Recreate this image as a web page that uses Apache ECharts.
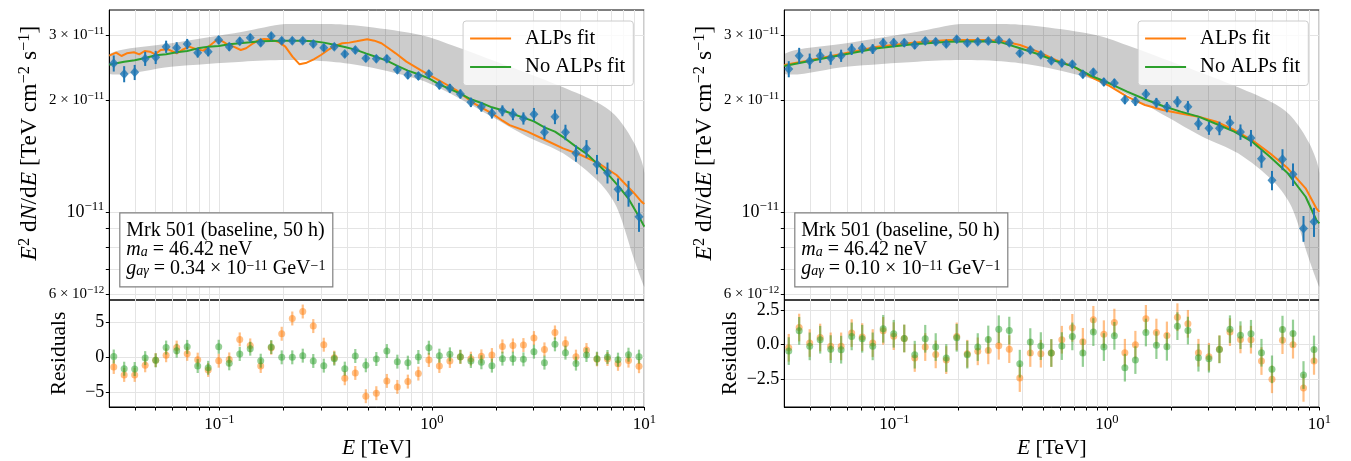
<!DOCTYPE html>
<html>
<head>
<meta charset="utf-8">
<script src="https://cdn.jsdelivr.net/npm/echarts@6.0.0/dist/echarts.min.js"></script>
<style>html,body{margin:0;padding:0;background:#fff;}#chart{width:1351px;height:461px;}</style>
</head>
<body>
<div id="chart"></div>
<script>
// ---------------- data (flux in units of 1e-11 TeV cm^-2 s^-1) ----------------
const ENERGY = [0.0318, 0.0356, 0.0399, 0.0447, 0.0501, 0.0561, 0.0629, 0.0705, 0.0790, 0.0885, 0.0992, 0.1112, 0.1246, 0.1396, 0.1564, 0.1753, 0.1964, 0.2202, 0.2467, 0.2765, 0.3098, 0.3472, 0.3891, 0.4360, 0.4887, 0.5476, 0.6137, 0.6877, 0.7707, 0.8637, 0.9678, 1.0846, 1.2154, 1.3620, 1.5263, 1.7105, 1.9168, 2.1481, 2.4072, 2.6977, 3.0231, 3.3878, 3.7966, 4.2546, 4.7678, 5.3430, 5.9876, 6.7100, 7.5194, 8.4265, 9.4431];

const LEFT_FLUX = [2.516, 2.354, 2.379, 2.589, 2.611, 2.79, 2.772, 2.837, 2.688, 2.704, 2.908, 2.79, 2.885, 2.95, 2.86, 2.98, 2.895, 2.895, 2.895, 2.837, 2.772, 2.79, 2.666, 2.733, 2.595, 2.589, 2.589, 2.417, 2.34, 2.325, 2.354, 2.198, 2.154, 2.08, 1.974, 1.921, 1.844, 1.874, 1.833, 1.787, 1.833, 1.639, 1.805, 1.639, 1.438, 1.48, 1.343, 1.275, 1.15, 1.122, 0.970];
const RIGHT_FLUX = [2.428, 2.638, 2.553, 2.638, 2.6, 2.638, 2.745, 2.762, 2.75, 2.855, 2.86, 2.86, 2.819, 2.89, 2.878, 2.837, 2.921, 2.855, 2.878, 2.89, 2.908, 2.86, 2.678, 2.733, 2.654, 2.558, 2.521, 2.5, 2.349, 2.379, 2.24, 2.226, 2.006, 1.987, 2.08, 1.97, 1.917, 1.982, 1.921, 1.729, 1.68, 1.68, 1.739, 1.642, 1.582, 1.391, 1.216, 1.385, 1.262, 0.902, 0.940];
const FLUX_ERR_REL = [0.05, 0.05, 0.047, 0.044, 0.041, 0.038, 0.035, 0.032, 0.03, 0.028, 0.026, 0.025, 0.024, 0.023, 0.022, 0.021, 0.021, 0.021, 0.021, 0.021, 0.021, 0.021, 0.021, 0.022, 0.022, 0.022, 0.023, 0.023, 0.024, 0.024, 0.025, 0.026, 0.027, 0.028, 0.029, 0.03, 0.032, 0.034, 0.036, 0.038, 0.04, 0.042, 0.045, 0.048, 0.051, 0.055, 0.06, 0.065, 0.07, 0.08, 0.09];

const LEFT_RES_ALP = [-1.38, -2.52, -2.52, -1.14, -0.4, 0.3, 1.4, 0.5, -0.33, -1.8, -0.48, -0.3, 2.57, 1.71, -1.24, 1.38, 3.38, 5.57, 6.57, 4.48, 1.81, -0.05, -3.0, -2.24, -5.57, -5.14, -3.38, -4.24, -3.48, -2.33, -0.38, -1.24, -0.52, 0.05, -0.19, 0.14, 0.33, 1.57, 1.71, 1.76, 2.76, 1.14, 3.57, 2.0, 0.1, 1.05, -0.29, -0.23, -0.93, -0.47, -1.27];
const LEFT_RES_NOALP = [0.12, -1.63, -1.67, -0.11, -0.43, 1.4, 0.95, 1.5, -1.25, -1.5, 1.52, -0.86, 0.48, 1.24, -0.48, 1.48, 0, 0, 0.24, -0.52, -1.19, -0.19, -1.62, 0.19, -1.14, -0.24, 0.9, -0.62, -0.76, 0.05, 1.38, 0.24, 0.43, 0.1, -0.52, -0.71, -1.19, -0.19, -0.19, -0.29, 0.81, -0.76, 1.86, 0.67, -0.9, 0.33, -0.19, 0.05, -0.33, 0.38, 0.1];
const RIGHT_RES_ALP = [-0.24, 1.22, 0.1, 0.5, -0.14, -0.14, 0.82, 0.53, 0.1, 0.98, 0.6, 0.43, -0.98, -0.19, -0.72, -1.13, 0.58, -0.67, -0.5, -0.43, -0.1, -0.34, -2.43, -0.62, -0.67, -0.62, 0.34, 1.2, 0.19, 1.78, 0.74, 1.58, -0.6, -0.02, 1.85, 0.86, 0.65, 1.97, 1.49, -0.6, -0.89, -0.34, 0.89, 0.36, 0.34, -1.2, -2.52, 0.31, -0.02, -3.14, -1.19];
const RIGHT_RES_NOALP = [-0.48, 0.98, -0.14, 0.34, -0.34, -0.38, 0.58, 0.41, -0.14, 1.13, 0.77, 0.43, -0.74, 0.41, -0.19, -0.98, 0.48, -0.74, -0.19, 0.36, 1.1, 1.0, -1.39, 0.17, -0.12, -0.62, -0.12, 0.58, -0.62, 0.89, -0.19, 0.62, -1.68, -1.13, 0.86, -0.05, -0.17, 1.32, 1.0, -0.96, -1.03, -0.36, 1.1, 0.67, 0.77, -0.6, -1.8, 1.07, 0.79, -2.21, -0.36];
const RES_ERR = 1;

const LEFT_NOALP_E = [0.0303].concat(ENERGY, [10]);
const LEFT_NOALP_F = [2.495, 2.510, 2.542, 2.563, 2.600, 2.644, 2.660, 2.694, 2.716, 2.761, 2.790, 2.802, 2.831, 2.849, 2.866, 2.884, 2.890, 2.896, 2.896, 2.896, 2.884, 2.861, 2.825, 2.785, 2.739, 2.677, 2.617, 2.558, 2.475, 2.404, 2.350, 2.291, 2.208, 2.145, 2.084, 2.012, 1.966, 1.914, 1.879, 1.836, 1.795, 1.754, 1.690, 1.645, 1.575, 1.499, 1.435, 1.351, 1.267, 1.177, 1.085, 0.970, 0.912];

const LEFT_ALP_E = [0.0303, 0.03079, 0.03263, 0.03457, 0.03664, 0.03958, 0.04195, 0.04444, 0.0471, 0.0499, 0.05287, 0.05713, 0.06051, 0.06289, 0.06664, 0.072, 0.07778, 0.08403, 0.09078, 0.09806, 0.1039, 0.1101, 0.1166, 0.126, 0.1335, 0.1442, 0.1528, 0.162, 0.1716, 0.1818, 0.1889, 0.2042, 0.2207, 0.2383, 0.2574, 0.278, 0.3004, 0.3244, 0.3504, 0.3786, 0.4089, 0.4418, 0.4962, 0.536, 0.5789, 0.6254, 0.6755, 0.7586, 0.8853, 1.074, 1.302, 1.579, 1.916, 2.151, 2.324, 2.818, 3.419, 4.147, 5.03, 6.1, 7.398, 8.974, 9.694, 10];
const LEFT_ALP_F = [2.64, 2.649, 2.688, 2.633, 2.677, 2.694, 2.66, 2.716, 2.705, 2.66, 2.733, 2.745, 2.705, 2.677, 2.733, 2.79, 2.745, 2.722, 2.819, 2.92, 2.878, 2.819, 2.79, 2.733, 2.762, 2.849, 2.908, 2.926, 2.92, 2.896, 2.878, 2.79, 2.622, 2.5, 2.526, 2.579, 2.649, 2.733, 2.802, 2.849, 2.861, 2.884, 2.92, 2.896, 2.849, 2.762, 2.677, 2.542, 2.413, 2.268, 2.13, 1.962, 1.843, 1.761, 1.714, 1.645, 1.562, 1.483, 1.423, 1.351, 1.257, 1.121, 1.065, 1.05];

const RIGHT_CURVE_E = [0.0303, 0.0383, 0.0563, 0.083, 0.122, 0.18, 0.265, 0.321, 0.39, 0.473, 0.574, 0.697, 0.846, 1.027, 1.246, 1.511, 1.834, 2.226, 2.701, 3.279, 3.977, 4.827, 5.856, 7.108, 8.623, 9.685, 10];
const RIGHT_NOALP_F = [2.475, 2.542, 2.649, 2.762, 2.831, 2.878, 2.884, 2.861, 2.762, 2.666, 2.553, 2.464, 2.325, 2.222, 2.109, 2.012, 1.93, 1.863, 1.806, 1.725, 1.645, 1.546, 1.408, 1.27, 1.098, 0.95, 0.93];
const RIGHT_ALP_F = [2.49, 2.553, 2.666, 2.79, 2.861, 2.908, 2.908, 2.89, 2.819, 2.705, 2.568, 2.464, 2.306, 2.186, 2.045, 1.942, 1.882, 1.843, 1.806, 1.75, 1.662, 1.562, 1.438, 1.31, 1.157, 1.022, 1.0];

const BAND_E = [0.0303, 0.0593, 0.1285, 0.2042, 0.3372, 0.4962, 0.8853, 1.302, 1.916, 2.818, 4.147, 6.1, 7.398, 8.974, 10];
const BAND_HI = [2.666, 2.849, 3.063, 3.212, 3.212, 3.16, 3.0, 2.79, 2.568, 2.364, 2.167, 1.962, 1.806, 1.53, 1.27];
const BAND_LO = [2.354, 2.464, 2.542, 2.568, 2.542, 2.464, 2.268, 2.045, 1.806, 1.595, 1.438, 1.206, 1.032, 0.741, 0.628];

// ---------------- axes ticks / labels ----------------
const X_MIN = 0.0303, X_MAX = 10;
const Y_MIN = 0.578, Y_MAX = 3.504;
const X_MAJOR_TICKS = [0.1, 1, 10];
const X_MAJOR_EXP = ['−1', '0', '1'];
const X_MINOR_TICKS = [0.04, 0.05, 0.06, 0.07, 0.08, 0.09, 0.2, 0.3, 0.4, 0.5, 0.6, 0.7, 0.8, 0.9, 2, 3, 4, 5, 6, 7, 8, 9];
const Y_TICKS = [0.6, 0.7, 0.8, 0.9, 1, 2, 3];
const Y_LABEL_TICKS = [0.6, 1, 2, 3];
const Y_LABEL_TEXT = ['{m|6 × 10}{ms|−12}', '{M|10}{Ms|−11}', '{m|2 × 10}{ms|−11}', '{m|3 × 10}{ms|−11}'];
const RES_LIMITS = [[-7.12, 8.22], [-4.52, 3.21]];
const RES_TICKS = [[-5, 0, 5], [-2.5, 0, 2.5]];
const RES_TICK_TEXT = [['−5', '0', '5'], ['−2.5', '0.0', '2.5']];
const SERIES_NAMES = ['ALPs fit', 'No ALPs fit'];
const COUPLINGS = ['0.34', '0.10'];

// ---------------- layout / style ----------------
const FONT = "'Liberation Serif','DejaVu Serif',serif";
const GRID_LEFT = [109.3, 784.3];
const GRID_W = 535;
const TOP_Y = 10, TOP_H = 290, RES_Y = 300, RES_H = 108.3;
const GRID_COLOR = '#e4e4e4';
const C_BLUE = '#1f77b4', C_ORANGE = '#ff7f0e', C_GREEN = '#2ca02c';

const PANELS = [
  {flux: LEFT_FLUX, resAlp: LEFT_RES_ALP, resNo: LEFT_RES_NOALP, alpE: LEFT_ALP_E, alpF: LEFT_ALP_F, noE: LEFT_NOALP_E, noF: LEFT_NOALP_F},
  {flux: RIGHT_FLUX, resAlp: RIGHT_RES_ALP, resNo: RIGHT_RES_NOALP, alpE: RIGHT_CURVE_E, alpF: RIGHT_ALP_F, noE: RIGHT_CURVE_E, noF: RIGHT_NOALP_F}
];

const ALL_X_TICKS = X_MAJOR_TICKS.concat(X_MINOR_TICKS).sort((a, b) => a - b);
const near = (a, b) => Math.abs(Math.log10(a) - Math.log10(b)) < 1e-6;

const txt = (extra) => Object.assign({fontFamily: FONT, color: '#000', fontWeight: 'normal'}, extra);

const grids = [], xAxes = [], yAxes = [], series = [], legends = [], titles = [];

PANELS.forEach((P, k) => {
  const gTop = grids.length, gRes = gTop + 1;
  grids.push({left: GRID_LEFT[k], top: TOP_Y, width: GRID_W, height: TOP_H, show: true, borderColor: '#000', borderWidth: 1, backgroundColor: 'transparent'});
  grids.push({left: GRID_LEFT[k], top: RES_Y, width: GRID_W, height: RES_H, show: true, borderColor: '#000', borderWidth: 1, backgroundColor: 'transparent'});

  // x axes
  xAxes.push({
    type: 'log', logBase: 10, gridIndex: gTop, min: X_MIN, max: X_MAX,
    axisLine: {show: false, onZero: false}, axisLabel: {show: false},
    axisTick: {show: false, customValues: ALL_X_TICKS},
    splitLine: {show: true, lineStyle: {color: GRID_COLOR, width: 1}}
  });
  xAxes.push({
    type: 'log', logBase: 10, gridIndex: gRes, min: X_MIN, max: X_MAX, position: 'bottom',
    axisLine: {show: true, onZero: false, lineStyle: {color: '#000', width: 1}},
    axisTick: {show: true, customValues: ALL_X_TICKS, length: 3.5, lineStyle: {color: '#000', width: 1}},
    axisLabel: {
      show: true, customValues: X_MAJOR_TICKS, margin: 6,
      formatter: (v) => { const i = X_MAJOR_TICKS.findIndex(t => near(v, t)); return '{b|10}{s|' + X_MAJOR_EXP[i] + '}'; },
      rich: {b: txt({fontSize: 17, lineHeight: 23}), s: txt({fontSize: 12.5, lineHeight: 12, verticalAlign: 'top'})}
    },
    splitLine: {show: true, lineStyle: {color: GRID_COLOR, width: 1}},
    name: '{i|E}{t| [TeV]}', nameLocation: 'middle', nameGap: 29,
    nameTextStyle: txt({fontSize: 21.5, lineHeight: 24, rich: {i: txt({fontSize: 21.5, fontStyle: 'italic', lineHeight: 24}), t: txt({fontSize: 21.5, lineHeight: 24})}})
  });

  // y axes
  yAxes.push({
    type: 'log', logBase: 10, gridIndex: gTop, min: Y_MIN, max: Y_MAX,
    axisLine: {show: true, onZero: false, lineStyle: {color: '#000', width: 1}},
    axisTick: {show: true, customValues: Y_TICKS, length: 3.5, lineStyle: {color: '#000', width: 1}},
    axisLabel: {
      show: true, customValues: Y_LABEL_TICKS, margin: 5,
      formatter: (v) => { const i = Y_LABEL_TICKS.findIndex(t => near(v, t)); return Y_LABEL_TEXT[i]; },
      rich: {
        M: txt({fontSize: 18, lineHeight: 24}), Ms: txt({fontSize: 13, lineHeight: 12, verticalAlign: 'top'}),
        m: txt({fontSize: 15, lineHeight: 19}), ms: txt({fontSize: 11, lineHeight: 10, verticalAlign: 'top'})
      }
    },
    splitLine: {show: true, lineStyle: {color: GRID_COLOR, width: 1}},
    name: '{i|E}{sup|2}{t| d}{i|N}{t|/d}{i|E}{t| [TeV cm}{sup|−2}{t| s}{sup|−1}{t|]}',
    nameLocation: 'middle', nameGap: 66,
    nameTextStyle: txt({fontSize: 23.5, lineHeight: 27, padding: [0, 0, 0, 24], rich: {
      i: txt({fontSize: 23.5, fontStyle: 'italic', lineHeight: 27}),
      t: txt({fontSize: 23.5, lineHeight: 27}),
      sup: txt({fontSize: 16.5, lineHeight: 15, verticalAlign: 'top'})
    }})
  });
  yAxes.push({
    type: 'value', gridIndex: gRes, min: RES_LIMITS[k][0], max: RES_LIMITS[k][1],
    axisLine: {show: true, onZero: false, lineStyle: {color: '#000', width: 1}},
    axisTick: {show: true, customValues: RES_TICKS[k], length: 3.5, lineStyle: {color: '#000', width: 1}},
    axisLabel: {
      show: true, customValues: RES_TICKS[k], margin: 5,
      formatter: (v) => { const i = RES_TICKS[k].findIndex(t => Math.abs(t - v) < 1e-9); return RES_TICK_TEXT[k][i]; },
      fontFamily: FONT, fontSize: 18, color: '#000'
    },
    splitLine: {show: true, lineStyle: {color: GRID_COLOR, width: 1}},
    name: 'Residuals', nameLocation: 'middle', nameGap: 38,
    nameTextStyle: txt({fontSize: 21.5, lineHeight: 24})
  });

  // ---- top panel series ----
  // model uncertainty band (smoothed polygon through the library's coordinates)
  series.push({
    type: 'custom', name: 'band', xAxisIndex: gTop, yAxisIndex: gTop, z: 1, silent: true,
    data: BAND_E.map((e, i) => [e, BAND_LO[i], BAND_HI[i]]),
    encode: {x: 0, y: [1, 2]},
    renderItem: (params, api) => {
      if (params.dataIndex !== 0) return null;
      const pts = [];
      for (let i = 0; i < BAND_E.length; i++) pts.push(api.coord([BAND_E[i], BAND_HI[i]]));
      for (let i = BAND_E.length - 1; i >= 0; i--) pts.push(api.coord([BAND_E[i], BAND_LO[i]]));
      const c = [pts[0].slice(), pts[0].slice()];
      return {type: 'polygon', shape: {points: pts, smooth: 0.3, smoothConstraint: c}, style: {fill: 'rgba(0,0,0,0.2)', stroke: null}};
    }
  });
  series.push({
    type: 'line', name: SERIES_NAMES[0], xAxisIndex: gTop, yAxisIndex: gTop, z: 2,
    data: P.alpE.map((e, i) => [e, P.alpF[i]]), symbol: 'none', showSymbol: false, silent: true,
    lineStyle: {color: C_ORANGE, width: 2}, itemStyle: {color: C_ORANGE}
  });
  series.push({
    type: 'line', name: SERIES_NAMES[1], xAxisIndex: gTop, yAxisIndex: gTop, z: 3,
    data: P.noE.map((e, i) => [e, P.noF[i]]), symbol: 'none', showSymbol: false, silent: true,
    lineStyle: {color: C_GREEN, width: 2}, itemStyle: {color: C_GREEN}
  });
  const errSeries = (name, xi, yi, pts, color, width, opacity, z) => ({
    type: 'custom', name, xAxisIndex: xi, yAxisIndex: yi, z, silent: true,
    data: pts, encode: {x: 0, y: [1, 2]},
    renderItem: (params, api) => {
      const a = api.coord([api.value(0), api.value(1)]);
      const b = api.coord([api.value(0), api.value(2)]);
      return {type: 'line', shape: {x1: a[0], y1: a[1], x2: b[0], y2: b[1]}, style: {stroke: color, lineWidth: width, opacity: opacity}};
    }
  });
  series.push(errSeries('data err', gTop, gTop,
    ENERGY.map((e, i) => [e, P.flux[i] * (1 - FLUX_ERR_REL[i]), P.flux[i] * (1 + FLUX_ERR_REL[i])]), C_BLUE, 2, 1, 4));
  series.push({
    type: 'scatter', name: 'data', xAxisIndex: gTop, yAxisIndex: gTop, z: 5, silent: true,
    symbol: 'diamond', symbolSize: [9, 10], itemStyle: {color: C_BLUE},
    data: ENERGY.map((e, i) => [e, P.flux[i]])
  });

  // ---- residual series ----
  [[P.resAlp, C_ORANGE], [P.resNo, C_GREEN]].forEach(([res, col], j) => {
    series.push(errSeries('res err ' + j, gRes, gRes,
      ENERGY.map((e, i) => [e, res[i] - RES_ERR, res[i] + RES_ERR]), col, 2.2, 0.5, 2 + 2 * j));
    series.push({
      type: 'scatter', name: 'res ' + j, xAxisIndex: gRes, yAxisIndex: gRes, z: 3 + 2 * j, silent: true,
      symbol: 'circle', symbolSize: 7, itemStyle: {color: col, opacity: 0.5},
      data: ENERGY.map((e, i) => [e, res[i]])
    });
  });

  legends.push({
    data: SERIES_NAMES, orient: 'vertical',
    right: 1351 - (GRID_LEFT[k] + GRID_W) + 11, top: 21,
    icon: 'rect', itemWidth: 41, itemHeight: 2, itemGap: 7.5,
    padding: [7, 8, 8, 7],
    backgroundColor: 'rgba(255,255,255,0.8)', borderColor: '#cccccc', borderWidth: 1, borderRadius: 3,
    textStyle: txt({fontSize: 20.5, lineHeight: 21, padding: [0, 0, 0, 9]}),
    selectedMode: false, z: 10
  });

  titles.push({
    left: GRID_LEFT[k] + 10, top: 213.3,
    text: '{t|Mrk 501 (baseline, 50 h)}\n{i|m}{sub|a}{t| = 46.42 neV}\n{i|g}{sub|aγ}{t| = ' + COUPLINGS[k] + ' × 10}{sup|−11}{t| GeV}{sup|−1}',
    padding: [8, 8, 8, 7], borderColor: '#808080', borderWidth: 1.2, backgroundColor: '#ffffff',
    textStyle: txt({fontSize: 20, lineHeight: 19, rich: {
      t: txt({fontSize: 20, lineHeight: 19}),
      i: txt({fontSize: 20, lineHeight: 19, fontStyle: 'italic'}),
      sub: txt({fontSize: 14, lineHeight: 10, verticalAlign: 'bottom', fontStyle: 'italic'}),
      sup: txt({fontSize: 14, lineHeight: 10, verticalAlign: 'top'})
    }}),
    z: 10
  });
});

const chart = echarts.init(document.getElementById('chart'), null, {renderer: 'canvas', width: 1351, height: 461});
chart.setOption({
  animation: false,
  backgroundColor: '#ffffff',
  grid: grids, xAxis: xAxes, yAxis: yAxes, series: series, legend: legends, title: titles
});
</script>
</body>
</html>
